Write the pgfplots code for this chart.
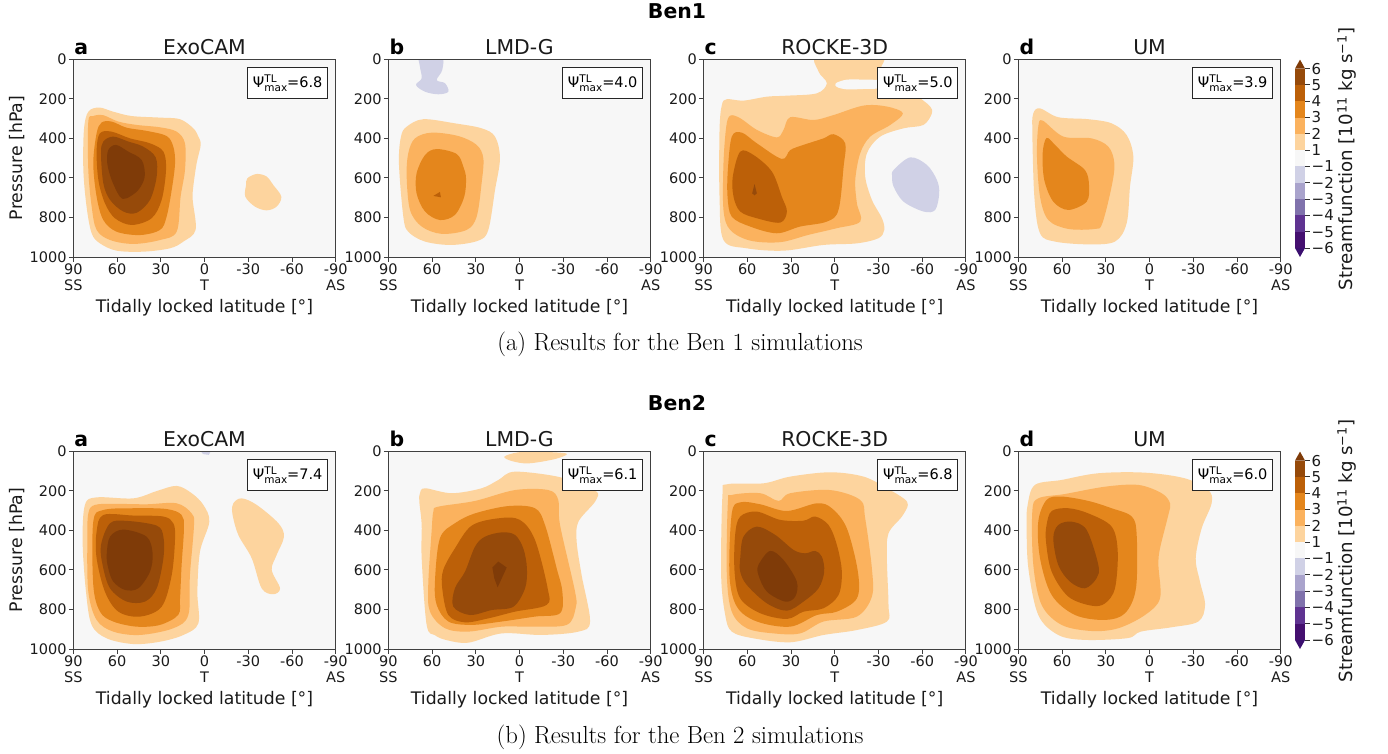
\documentclass[border=0pt]{standalone}
\usepackage{fontspec}
\usepackage{pgfplots}
\pgfplotsset{compat=1.18}
\newfontfamily\dv{DejaVu Sans}
\definecolor{bgc}{HTML}{F7F7F7}
\definecolor{La}{HTML}{FDD49E}
\definecolor{Lb}{HTML}{FBB25E}
\definecolor{Lc}{HTML}{E4861C}
\definecolor{Ld}{HTML}{BC6008}
\definecolor{Le}{HTML}{964A0A}
\definecolor{Lf}{HTML}{7F3B08}
\definecolor{Na}{HTML}{D0D1E6}
\definecolor{Nb}{HTML}{A9A3CC}
\definecolor{Nc}{HTML}{8072AC}
\definecolor{Nd}{HTML}{5F3391}
\definecolor{Ne}{HTML}{451070}
\definecolor{Nf}{HTML}{3B0F6F}
\definecolor{tx}{HTML}{1A1A1A}
\newcommand\fs[1]{\fontsize{#1}{#1}\selectfont}
\newcommand\sm[2]{\addplot[fill=#1,draw=none,smooth cycle,tension=0.55] coordinates {#2};}
\newcommand\sh[2]{\addplot[fill=#1,draw=none] coordinates {#2};}
\newcommand\psibox[1]{\dv\fs{14.5}Ψ\makebox[0pt][l]{\raisebox{5.5pt}{\fs{10.5}TL}}\raisebox{-3.5pt}{\fs{10.5}max}=#1}
\pgfplotsset{
 panel/.style={
  scale only axis,width=262.4pt,height=197.7pt,anchor=south west,
  x dir=reverse,y dir=reverse,
  xmin=-90,xmax=90,ymin=0,ymax=1000,
  axis background/.style={fill=bgc},
  axis on top,
  axis line style={line width=1pt,color=black!75},
  tick style={line width=0.9pt,color=black!75},
  tick align=outside,major tick length=4.5pt,
  xtick pos=bottom,ytick pos=left,
  xtick={90,60,30,0,-30,-60,-90},
  xticklabels={{90\\SS},60,30,{0\\T},-30,-60,{-90\\AS}},
  ytick={0,200,400,600,800,1000},
  yticklabels={0,200,400,600,800,1000},
  xticklabel style={font=\dv\fontsize{14.5}{16}\selectfont,align=center,inner sep=1pt,yshift=-1pt,text=tx},
  yticklabel style={font=\dv\fs{14.5},inner sep=2pt,text=tx},
 }
}
\newcommand\panel[6]{%
\begin{axis}[panel,at={(#1pt,#2pt)},
 extra description/.code={
  \node[anchor=base,font=\dv\fs{20.4},text=tx] at (axis description cs:0.5,1) [yshift=5pt] {#4};
  \node[anchor=base west,font=\dv\bfseries\fs{20.4},inner sep=0pt] at (axis description cs:0,1) [yshift=5pt,xshift=1pt] {#3};
  \node[anchor=base,font=\dv\fs{17.3},text=tx] at (axis description cs:0.5,0) [yshift=-55pt] {Tidally locked latitude [°]};
  \node[anchor=north east,draw=black!85,line width=1pt,fill=white,minimum width=80pt,minimum height=31.6pt,inner sep=0pt] at (axis description cs:1,1) [xshift=-7.5pt,yshift=-7.5pt] {\psibox{#5}};
 }]
#6
\end{axis}}
\newcommand\cbar[1]{%
\begin{axis}[scale only axis,width=10pt,height=197.4pt,anchor=south west,at={(1295pt,#1pt)},
 xmin=0,xmax=1,ymin=-0.55,ymax=11.55,clip=false,
 axis line style={draw=none},xtick=\empty,ytick pos=right,
 tick style={line width=0.8pt,color=black!80},tick align=outside,major tick length=4.5pt,
 ytick={0,1,2,3,4,5,6,7,8,9,10,11},
 yticklabels={−6,−5,−4,−3,−2,−1,1,2,3,4,5,6},
 yticklabel style={font=\dv\fs{15},inner sep=2pt,text=tx},
]
\sh{Nf}{(0,0)(1,0)(0.5,-0.55)}
\sh{Ne}{(0,0)(1,0)(1,1)(0,1)}
\sh{Nd}{(0,1)(1,1)(1,2)(0,2)}
\sh{Nc}{(0,2)(1,2)(1,3)(0,3)}
\sh{Nb}{(0,3)(1,3)(1,4)(0,4)}
\sh{Na}{(0,4)(1,4)(1,5)(0,5)}
\sh{bgc}{(0,5)(1,5)(1,6)(0,6)}
\sh{La}{(0,6)(1,6)(1,7)(0,7)}
\sh{Lb}{(0,7)(1,7)(1,8)(0,8)}
\sh{Lc}{(0,8)(1,8)(1,9)(0,9)}
\sh{Ld}{(0,9)(1,9)(1,10)(0,10)}
\sh{Le}{(0,10)(1,10)(1,11)(0,11)}
\sh{Lf}{(0,11)(1,11)(0.5,11.55)}
\end{axis}}
\begin{document}
\begin{tikzpicture}[x=1pt,y=1pt]
\path[use as bounding box] (0pt,0pt) rectangle (1388pt,753pt);
% ---------- Ben1
\panel{73.3}{496}{a}{ExoCAM}{6.8}{
\sm{La}{(79.7,265)(72.2,244)(62.6,265)(50,287)(30.5,295)(16.8,303)(7.7,349)(4.2,391)(2.6,433)(5.4,526)(7.7,644)(8.1,711)(6.1,863)(14.5,922)(23.7,956)(42,973)(60.3,968)(71.7,931)(77.4,880)(80.9,745)(83.1,560)(82.7,357)}
\sm{La}{(-29.4,602)(-35.8,580)(-42.6,593)(-47.2,636)(-52.7,695)(-49.5,745)(-42.6,764)(-34.6,745)(-28,695)(-28.5,636)}
\sm{Lb}{(79.7,315)(76.3,287)(69.4,283)(59.1,315)(46.5,332)(30.5,344)(19.1,366)(13.4,425)(13.4,560)(16.4,695)(19.1,872)(30.5,914)(48.8,934)(64.8,914)(74,863)(77.4,745)(79.7,560)}
\sm{Lc}{(74,374)(70.6,320)(63.7,315)(53.4,346)(39.7,362)(26,388)(21.4,442)(20.2,526)(22.5,661)(26,796)(30.5,863)(44.3,889)(60.3,872)(69.4,813)(74,695)(76.3,526)}
\sm{Ld}{(74,459)(71.7,374)(63.7,366)(51.1,400)(37.4,425)(28.2,467)(26.4,560)(29.4,711)(36.3,804)(50,838)(61.4,804)(68.3,728)(72.8,610)}
\sm{Le}{(71,475)(69.4,416)(62.6,391)(52.3,416)(42,442)(33.5,496)(32.8,593)(37.4,711)(46.5,776)(55.7,770)(64.8,711)(69.4,627)}
\sm{Lf}{(66.7,526)(66,459)(60.7,433)(52.3,467)(43.1,509)(41,593)(45.4,661)(53.4,703)(58,695)(63.7,610)}
}
\panel{388.3}{496}{b}{LMD-G}{4.0}{
\sm{Na}{(68.3,-20)(53.4,-20)(53,54)(56.8,105)(51.1,121)(48.8,164)(55.7,177)(64.8,164)(71,130)(67.1,96)(68.3,37)}
\sm{La}{(77.4,341)(66,303)(44.3,324)(26,349)(16.8,391)(13.4,501)(16.8,661)(21.4,863)(28.2,917)(46.5,939)(64.8,922)(76.3,872)(79.7,796)(82.7,526)(81.3,391)}
\sm{Lb}{(71.7,400)(60.3,371)(42,388)(29.4,433)(24.8,501)(26,627)(29.4,796)(36.3,863)(53.4,883)(67.1,846)(75.1,762)(77.4,593)(76.3,475)}
\sm{Lc}{(64.8,484)(56.8,454)(43.1,479)(38.5,543)(36.7,602)(37.9,695)(44.3,787)(54.6,813)(64.8,770)(70.6,678)(70.6,577)}
\sh{Ld}{(59.1,691)(54.6,671)(53.9,698)}
}
\panel{703.5}{496}{c}{ROCKE-3D}{5.0}{
\sm{La}{(11.1,-20)(-31.7,-20)(-31.7,60)(-45,120)(-58.7,197)(-65.5,239)(-66.7,273)(-60.9,332)(-47.2,349)(-31.2,391)(-22.1,475)(-20.9,593)(-25.5,711)(-32.4,804)(-34,863)(-30,905)(-15.2,931)(7.7,939)(35.1,968)(60.3,956)(76.3,914)(79,695)(79,357)(77.4,231)(74,202)(62.6,209)(46.5,189)(32.8,184)(12.2,172)(5.4,121)(11.1,62)}
\sm{bgc}{(-0.8,121)(-8.3,103)(-20,103)(-31,108)(-31,145)(-20,150)(-8.3,152)(-1.5,140)}
\sm{Lb}{(74.4,341)(71.7,285)(64.8,298)(53.4,357)(39.7,395)(35.1,357)(30.5,293)(14.5,307)(.8,282)(-19.8,234)(-35.8,239)(-46.8,273)(-38.1,332)(-24.4,391)(-17.5,475)(-14.1,610)(-15.2,728)(-17.5,821)(-1,855)(18,888)(37.4,925)(58,917)(71.7,863)(76.3,762)(76.3,526)}
\sm{Lc}{(73.3,560)(70.6,391)(63.7,371)(53.4,425)(36.3,504)(30.5,459)(21.4,433)(7.7,400)(.8,379)(-7.2,425)(-6.1,543)(-2.6,762)(5.4,821)(23.7,846)(39.7,880)(58,846)(70.6,796)(73.5,695)}
\sm{Ld}{(69.9,593)(64.8,467)(55.7,484)(43.1,568)(36.3,695)(32.8,770)(37.4,826)(53.4,804)(64.8,770)(69.4,695)}
\sh{Le}{(55,631)(53.4,678)(55,688)(56.6,678)}
\sm{Na}{(-40.4,560)(-51.8,496)(-63.2,534)(-70.1,610)(-71.7,678)(-68.9,762)(-60.9,770)(-47.2,720)(-40.4,644)(-39.4,593)}
}
\panel{1018.3}{496}{d}{UM}{3.9}{
\sm{La}{(79.7,273)(75.1,248)(62.6,293)(42,303)(26,324)(15.7,383)(11.1,492)(13.4,644)(15.7,830)(23.7,922)(42,936)(64.8,922)(75.1,880)(79,695)(80.4,357)}
\sm{Lb}{(76.3,341)(73.3,310)(59.1,391)(39.7,400)(28.2,442)(24.1,526)(26,644)(32.4,830)(37.4,858)(55.7,858)(69.4,813)(75.1,695)(77.2,492)}
\sm{Lc}{(73.3,475)(70.6,398)(64.8,433)(56.8,492)(44.3,560)(41.5,636)(43.1,720)(55.7,762)(66,720)(72.2,610)}
}
\cbar{496}
% ---------- Ben2
\panel{73.3}{104}{a}{ExoCAM}{7.4}{
\sm{La}{(82,271)(74,233)(48.8,238)(32.8,201)(19.1,175)(8.8,212)(.8,271)(-3.3,356)(3.1,507)(4.9,710)(4.2,870)(14.5,929)(30.5,963)(48.8,975)(67.1,946)(77.4,878)(81.3,710)(83.6,457)}
\sm{La}{(-19.8,263)(-25.5,238)(-35.8,271)(-50.7,364)(-54.5,432)(-49.5,524)(-46.1,600)(-51.8,693)(-47.2,723)(-39.2,693)(-32.4,541)(-23.2,423)(-19.1,314)}
\sh{Na}{(-4.9,-10)(3.6,-10)(1,14)(-3,18)}
\sm{Lb}{(79.7,314)(75.1,271)(60.3,266)(39.7,268)(19.1,263)(8.8,314)(7.2,373)(10,626)(11.1,828)(21.4,895)(44.3,929)(62.6,912)(74,853)(79.7,710)(80.4,457)}
\sm{Lc}{(76.3,356)(69.4,297)(48.8,288)(26,292)(15.7,322)(14.1,389)(15.7,575)(16.8,744)(18,827)(30.5,878)(46.5,887)(62.6,861)(71.7,811)(76.3,676)}
\sm{Ld}{(74,406)(69.4,322)(48.8,325)(28.2,330)(21.4,364)(20.2,440)(22.5,626)(29.4,786)(44.3,836)(59.1,811)(68.3,710)(74,541)}
\sm{Le}{(71,474)(64.8,364)(53.4,352)(32.8,376)(28.2,432)(28.2,541)(32.8,693)(40.8,760)(53.4,760)(64.8,693)(69.9,575)}
\sm{Lf}{(67.1,524)(64.8,432)(55.7,396)(39.7,432)(35.6,516)(37.4,609)(45.4,693)(54.6,701)(62.6,659)(66,592)}
}
\panel{388.3}{104}{b}{LMD-G}{6.1}{
\sm{La}{(10.4,27)(.8,5)(-16,3)(-32.4,12)(-24.4,39)(-6.1,61)(5.4,49)}
\sm{La}{(68.3,212)(64.8,187)(46.5,212)(26,187)(14.5,145)(3.1,103)(-28.9,133)(-38.1,187)(-52.9,204)(-51.8,255)(-40.4,356)(-39.2,457)(-42.6,626)(-48.4,861)(-40.4,912)(-15.2,929)(12.2,921)(35.1,968)(50,955)(58,930)(63.7,878)(67.1,541)(67.1,373)(68.7,255)}
\sm{Lb}{(59.1,305)(55.7,280)(30.5,251)(3.1,196)(-19.8,196)(-26.6,246)(-27.8,373)(-38.1,710)(-38.5,794)(-32.4,878)(-8.3,887)(12.2,887)(35.1,912)(51.1,895)(61.4,811)(62.6,676)(60.3,406)}
\sm{Lc}{(54.6,440)(44.3,364)(30.5,314)(7.7,277)(-10.6,288)(-17.5,373)(-25.5,592)(-29.4,710)(-27.8,819)(-10.6,836)(12.2,861)(32.8,878)(48.8,861)(56.8,777)(58,659)}
\sm{Ld}{(53,693)(52.3,600)(44.3,491)(32.8,376)(14.5,339)(-.3,347)(-10.6,448)(-19.3,693)(-18.6,777)(3.1,811)(21.4,845)(37.4,865)(48.8,828)}
\sm{Le}{(44.3,693)(37.4,609)(30.5,482)(23.7,432)(12.2,410)(3.1,423)(-2.6,491)(-5.1,592)(-3.8,693)(4.2,786)(19.1,803)(34,828)(45.4,786)}
\sh{Lf}{(18.6,588)(14.5,558)(8.8,588)(15,688)(17.3,642)}
}
\panel{703.5}{104}{c}{ROCKE-3D}{6.8}{
\sm{La}{(77,221)(74,167)(48.8,162)(30.5,128)(3.1,106)(-19.8,128)(-35.8,187)(-47.2,238)(-50.2,271)(-46.1,330)(-36.9,415)(-35.8,541)(-36.9,777)(-35.8,861)(-15.2,904)(7.7,929)(30.5,966)(55.7,946)(70.6,912)(75.1,828)(77.9,626)}
\sm{Lb}{(73.3,263)(70.6,221)(51.1,212)(38.5,251)(30.5,212)(3.1,196)(-17.5,246)(-20.9,339)(-25.5,592)(-25.5,735)(-15.2,836)(7.7,861)(23.7,921)(42,921)(60.3,895)(70.6,811)(74,626)}
\sm{Lc}{(70.6,314)(64.8,258)(51.1,268)(32.8,302)(12.2,263)(2,288)(-8.3,389)(-15.9,609)(-15.2,744)(-1.5,811)(12.2,828)(30.5,887)(53.4,861)(67.1,786)(72.2,626)}
\sm{Ld}{(68.3,423)(64.8,330)(53.4,305)(37.4,347)(21.4,351)(13.4,330)(4.2,373)(-1.5,474)(-4.9,609)(-2.6,727)(7.7,794)(21.4,811)(32.8,848)(51.1,819)(64.8,744)(68.7,609)}
\sm{Le}{(64.8,541)(62.6,432)(53.4,381)(40.8,423)(28.2,499)(20.2,516)(13.4,504)(8.8,533)(7.2,609)(11.1,693)(21.4,760)(32.8,806)(46.5,769)(60.3,676)(64.8,609)}
\sm{Lf}{(52.3,575)(44.3,504)(35.1,550)(26,659)(27.1,735)(34,760)(46.5,710)(52.3,626)}
}
\panel{1018.3}{104}{d}{UM}{6.0}{
\sm{La}{(83.6,271)(78.6,170)(60.3,145)(35.1,111)(3.1,108)(-24.4,137)(-40.4,196)(-42.6,263)(-35.8,389)(-31.7,541)(-34.6,659)(-38.1,777)(-33.5,861)(-15.2,890)(6,912)(15,945)(44.3,954)(62.6,929)(76.3,828)(83.1,592)(84.3,373)}
\sm{Lb}{(80.4,305)(76.3,238)(58,216)(30.5,179)(7.7,170)(-8.3,212)(-14.1,263)(-12.9,322)(-7.2,491)(-6.1,575)(-7.2,744)(3.1,828)(21.4,895)(39.7,909)(60.3,878)(74,777)(79.7,575)}
\sm{Lc}{(76.3,356)(70.6,246)(60.3,229)(42,251)(26,288)(12.2,330)(8.8,423)(9.3,693)(16.8,819)(30.5,853)(51.1,828)(67.1,727)(75.1,541)}
\sm{Ld}{(70.6,373)(67.1,302)(55.7,288)(42,314)(26,381)(21.8,507)(23.7,693)(30.5,769)(39.7,781)(55.7,735)(67.1,609)(71,457)}
\sm{Le}{(66,440)(62.6,373)(53.4,356)(43.1,398)(35.1,575)(36.3,642)(44.3,693)(54.6,659)(62.6,575)}
}
\cbar{104}
% ---------- labels
\node[rotate=90,font=\dv\fs{17.3},text=tx] at (17pt,595pt) {Pressure [hPa]};
\node[rotate=90,font=\dv\fs{17.3},text=tx] at (17pt,203pt) {Pressure [hPa]};
\node[rotate=90,font=\dv\fs{18.2},text=tx] at (1347pt,594pt) {Streamfunction [10\textsuperscript{11} kg s\textsuperscript{−1}]};
\node[rotate=90,font=\dv\fs{18.2},text=tx] at (1347pt,202pt) {Streamfunction [10\textsuperscript{11} kg s\textsuperscript{−1}]};
\node[font=\dv\bfseries\fs{20.4}] at (677pt,742pt) {Ben1};
\node[font=\dv\bfseries\fs{20.4}] at (677pt,350pt) {Ben2};
\node[font=\fs{24.7}] at (680pt,408.5pt) {(a) Results for the Ben 1 simulations};
\node[font=\fs{24.7}] at (680pt,15.5pt) {(b) Results for the Ben 2 simulations};
\end{tikzpicture}
\end{document}
